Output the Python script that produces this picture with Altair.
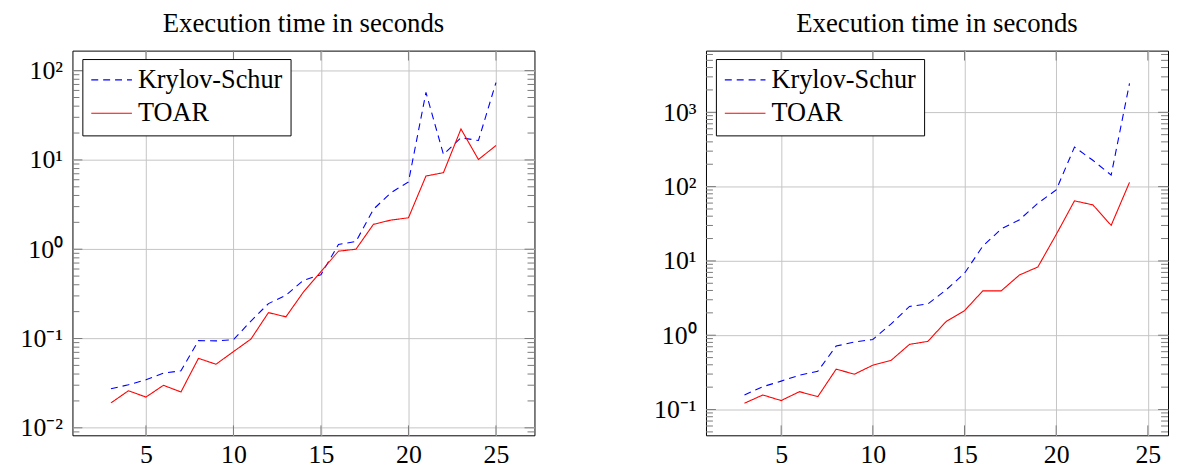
import altair as alt
import pandas as pd

SERIF = "Liberation Serif"
METHODS = ["Krylov-Schur", "TOAR"]
COLORS = ["#0000ff", "#ff0000"]
TITLE = "Execution time in seconds"

# ---- left panel data ----
n_left = list(range(3, 26))
ks_left = [0.0274, 0.0303, 0.0345, 0.041, 0.0435, 0.0946, 0.094, 0.097, 0.157,
           0.246, 0.305, 0.448, 0.518, 1.13, 1.22, 2.8, 4.3, 5.66, 57, 11.5,
           17.7, 16.5, 73.5]
toar_left = [0.019, 0.026, 0.0221, 0.0299, 0.0252, 0.060, 0.0515, 0.0713,
             0.0986, 0.195, 0.175, 0.332, 0.563, 0.951, 1.0, 1.90, 2.12, 2.25,
             6.6, 7.2, 22.2, 10.1, 14.5]

# ---- right panel data ----
n_right = list(range(3, 25))
ks_right = [0.157, 0.203, 0.241, 0.290, 0.328, 0.714, 0.809, 0.877, 1.42, 2.44,
            2.63, 4.08, 6.81, 15.8, 26.9, 35.8, 59.7, 90, 341, 226, 143, 2450]
toar_right = [0.1216, 0.157, 0.132, 0.174, 0.149, 0.349, 0.299, 0.395, 0.460,
              0.753, 0.826, 1.53, 2.14, 3.95, 3.95, 6.47, 8.28, 22.6, 64.3,
              56.8, 30.1, 114]

# axis tick values / labels
x_ticks = [5, 10, 15, 20, 25]
left_major = [0.01, 0.1, 1, 10, 100]
left_labels = ["10⁻²", "10⁻¹", "10⁰", "10¹", "10²"]
left_minor = [0.009] + [m * 10 ** e for e in (-2, -1, 0, 1) for m in range(2, 10)]
right_major = [0.1, 1, 10, 100, 1000]
right_labels = ["10⁻¹", "10⁰", "10¹", "10²", "10³"]
right_minor = [m * 0.01 for m in range(5, 10)] + \
    [m * 10 ** e for e in (-1, 0, 1, 2) for m in range(2, 10)] + \
    [m * 1000 for m in range(2, 7)]

W, H = 466, 388
TICK = "#7a7a7a"
GRID = "#c4c4c4"


def label_expr(majors, labels):
    expr = "''"
    for v, lab in reversed(list(zip(majors, labels))):
        expr = f"abs(datum.value - {v}) < {v * 1e-6} ? '{lab}' : ({expr})"
    return expr


def panel(ns, ks, toar, xdom, ydom, majors, labels, minors):
    df = pd.DataFrame({
        "n": ns + ns,
        "t": ks + toar,
        "method": [METHODS[0]] * len(ns) + [METHODS[1]] * len(ns),
    })
    xs = alt.Scale(domain=xdom, nice=False, zero=False)
    ys = alt.Scale(type="log", domain=ydom, nice=False)
    xaxis = alt.Axis(
        values=x_ticks, grid=True, gridColor=GRID, ticks=False, domain=False,
        title=None, labelFont=SERIF, labelFontSize=26, labelColor="black",
        labelPadding=6, labelFlush=False)
    yaxis = alt.Axis(
        values=majors, labelExpr=label_expr(majors, labels), grid=True,
        gridColor=GRID, ticks=False, domain=False, title=None,
        labelFont=SERIF, labelFontSize=26, labelColor="black",
        labelPadding=10, labelFlush=False)
    leg = alt.Legend(
        title=None, orient="none", legendX=10, legendY=8.5,
        strokeColor="black", fillColor="white", padding=8,
        symbolType="stroke", symbolSize=1681, symbolStrokeWidth=1.1,
        clipHeight=26,
        labelFont=SERIF, labelFontSize=26.5, labelColor="black",
        rowPadding=6.7, labelOffset=5, cornerRadius=0,
    )
    lines = alt.Chart(df).mark_line(strokeWidth=1.1, clip=True).encode(
        x=alt.X("n:Q", scale=xs, axis=xaxis, title=None),
        y=alt.Y("t:Q", scale=ys, axis=yaxis, title=None),
        color=alt.Color("method:N", scale=alt.Scale(domain=METHODS, range=COLORS),
                        legend=leg),
        strokeDash=alt.StrokeDash("method:N", scale=alt.Scale(
            domain=METHODS, range=[[7, 5], [1, 0]]), legend=leg),
    )
    maj = alt.Chart(pd.DataFrame({"t": majors}))
    mnr = alt.Chart(pd.DataFrame({"t": minors}))
    xt = alt.Chart(pd.DataFrame({"n": x_ticks}))
    yenc = alt.Y("t:Q", scale=ys, axis=yaxis, title=None)
    xenc = alt.X("n:Q", scale=xs, axis=xaxis, title=None)
    layers = [
        maj.mark_rule(color=TICK).encode(y=yenc, x=alt.value(0), x2=alt.value(10)),
        maj.mark_rule(color=TICK).encode(y=yenc, x=alt.value(W), x2=alt.value(W - 10)),
        mnr.mark_rule(color=TICK).encode(y=yenc, x=alt.value(0), x2=alt.value(7)),
        mnr.mark_rule(color=TICK).encode(y=yenc, x=alt.value(W), x2=alt.value(W - 7)),
        xt.mark_rule(color=TICK).encode(x=xenc, y=alt.value(0), y2=alt.value(10)),
        xt.mark_rule(color=TICK).encode(x=xenc, y=alt.value(H), y2=alt.value(H - 10)),
    ]
    return alt.layer(lines, *layers).properties(
        width=W, height=H,
        title=alt.TitleParams(TITLE, font=SERIF, fontSize=27, fontWeight="normal",
                              color="black", frame="group", anchor="middle",
                              offset=12),
    )


left = panel(n_left, ks_left, toar_left, [0.8, 27.2],
             [10 ** -2.084, 10 ** 2.224], left_major, left_labels, left_minor)
right = panel(n_right, ks_right, toar_right, [0.9, 26.1],
              [10 ** -1.347, 10 ** 3.83], right_major, right_labels, right_minor)

chart = alt.hconcat(left, right, spacing=118).resolve_scale(
    color="independent", strokeDash="independent"
).resolve_legend(color="independent", strokeDash="independent").properties(
    padding={"left": 11, "top": 0, "right": 0, "bottom": 0},
    background="white",
).configure_view(stroke="black", strokeWidth=1)

chart.save("out.html", embed_options={"renderer": "svg", "actions": False})
